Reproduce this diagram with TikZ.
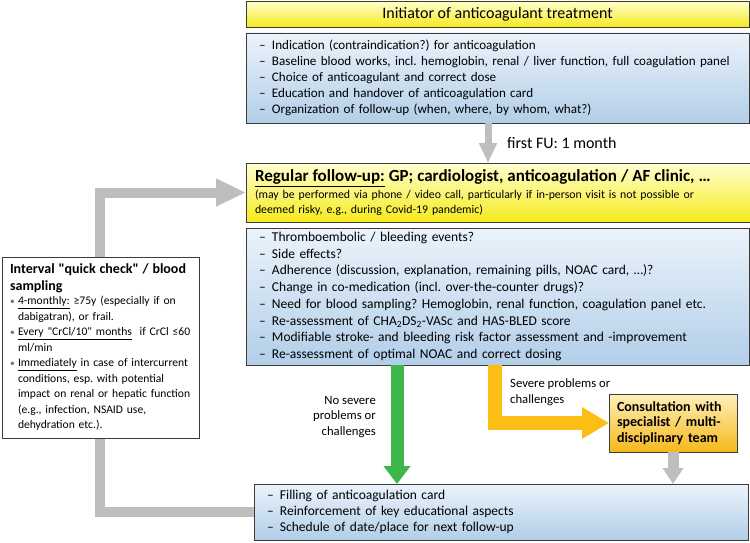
\documentclass[tikz,border=0pt]{standalone}
\usepackage{fontspec}
\setmainfont{Carlito}
\usetikzlibrary{arrows.meta,positioning}
\frenchspacing

\definecolor{ylwTop}{HTML}{FFFFD2}
\definecolor{ylwBot}{HTML}{F6EA1C}
\definecolor{bluTop}{HTML}{EBF3FB}
\definecolor{bluBot}{HTML}{B2CEE8}
\definecolor{orgTop}{HTML}{FFEFB8}
\definecolor{orgBot}{HTML}{F5B81C}
\definecolor{arrGrey}{HTML}{BEBEBE}
\definecolor{arrGreen}{HTML}{3DB64B}
\definecolor{arrOrange}{HTML}{FCBD14}
\definecolor{boxLine}{HTML}{3C3C3C}

\newcommand\fsz[2]{\fontsize{#1}{#2}\selectfont}
\newcommand\qq{\textquotedbl}
\newcommand\dashitem[1]{\makebox[13pt][l]{\textendash}#1}
\newcommand\dotitem[1]{\mbox{\makebox[8pt][l]{\fsz{9.5}{9.5}\textcolor{black!55}{\textbullet}}#1}}
\newcommand\dotcont[1]{\mbox{\hspace*{8pt}#1}}

\begin{document}
\begin{tikzpicture}[x=1pt,y=-1pt,
		box/.style={draw=boxLine,line width=0.9pt,rectangle,anchor=north west,outer sep=0pt,inner ysep=0pt,align=left},
		ylwbox/.style={box,top color=ylwTop,bottom color=ylwBot},
		blubox/.style={box,top color=bluTop,bottom color=bluBot},
		orgbox/.style={box,top color=orgTop,bottom color=orgBot},
		blockarrow/.style={line join=miter,line cap=butt}]
		\useasboundingbox (0,0) rectangle (750,543);

		% draw initiator boxes
		\node (init) at (246,1) [ylwbox,minimum width=503pt,minimum height=26pt,align=center,font=\fsz{16}{18}] {Initiator of anticoagulant treatment};
		\node (initlist) at (246,33) [blubox,minimum width=503pt,minimum height=90pt,text width=477pt,inner xsep=13pt,font=\fsz{13.1}{16}] {%
			\dashitem{Indication (contraindication?) for anticoagulation}\\
			\dashitem{Baseline blood works, incl. hemoglobin, renal / liver function, full coagulation panel}\\
			\dashitem{Choice of anticoagulant and correct dose}\\
			\dashitem{Education and handover of anticoagulation card}\\
			\dashitem{Organization of follow-up (when, where, by whom, what?)}};

		% draw follow-up boxes
		\node (fu) at (246,163) [ylwbox,minimum width=503pt,minimum height=59pt,text width=487pt,inner xsep=9pt,font=\fsz{11.8}{14.5}] {{\fsz{17}{18}\textbf{\underline{Regular follow-up:} GP; cardiologist, anticoagulation / AF clinic, \dots}}\\[3pt]
			(may be performed via phone / video call, particularly if in-person visit is not possible or\\
			deemed risky, e.g., during Covid-19 pandemic)};
		\node (check) at (246,228) [blubox,minimum width=503pt,minimum height=137pt,text width=477pt,inner xsep=13pt,font=\fsz{13.5}{16.7}] {%
			\dashitem{Thromboembolic / bleeding events?}\\
			\dashitem{Side effects?}\\
			\dashitem{Adherence (discussion, explanation, remaining pills, NOAC card, \dots)?}\\
			\dashitem{Change in co-medication (incl. over-the-counter drugs)?}\\
			\dashitem{Need for blood sampling? Hemoglobin, renal function, coagulation panel etc.}\\
			\dashitem{Re-assessment of CHA\textsubscript{2}DS\textsubscript{2}-VASc and HAS-BLED score}\\
			\dashitem{Modifiable stroke- and bleeding risk factor assessment and -improvement}\\
			\dashitem{Re-assessment of optimal NOAC and correct dosing}};

		% draw consultation and card boxes
		\node (consult) at (609,394) [orgbox,minimum width=128pt,minimum height=58pt,text width=112pt,inner xsep=8pt,font=\fsz{14}{15.5}\bfseries] {Consultation with\\specialist / multi-\\disciplinary team};
		\node (card) at (254,484) [blubox,minimum width=494pt,minimum height=56pt,text width=468pt,inner xsep=13pt,font=\fsz{13.5}{16}] {%
			\dashitem{Filling of anticoagulation card}\\
			\dashitem{Reinforcement of key educational aspects}\\
			\dashitem{Schedule of date/place for next follow-up}};

		% draw arrows
		\coordinate (fux) at (488,0);
		\coordinate (loopx) at (100,0);
		\coordinate (grnx) at (397,0);
		\coordinate (orgx) at (495,0);
		\draw[blockarrow,arrGrey,line width=7pt,-{Triangle[width=17pt,length=20pt]}] (initlist.south -| fux) -- (fu.north -| fux);
		\draw[blockarrow,arrGrey,line width=10pt,-{Triangle[width=26pt,length=30pt]}] (card.west) -| (loopx |- fu.west) -- (fu.west);
		\draw[blockarrow,arrGreen,line width=13pt,-{Triangle[width=26pt,length=18pt]}] (check.south -| grnx) -- (card.north -| grnx);
		\draw[blockarrow,arrOrange,line width=14pt,-{Triangle[width=30pt,length=27pt]}] (check.south -| orgx) |- (consult.west);
		\draw[blockarrow,arrGrey,line width=11pt,-{Triangle[width=20pt,length=16pt]}] (consult.south) -- (consult.south |- card.north);

		% draw interval box
		\node (interval) at (2,257) [box,fill=white,minimum width=197pt,minimum height=181pt,text width=181pt,inner xsep=8pt,font=\fsz{11.6}{15.5}] {%
			\mbox{\fsz{14}{19}\textbf{Interval \qq quick check\qq{} / blood}}\\[1pt]
			\mbox{\fsz{14}{19}\textbf{sampling}}\\[-1pt]
			\dotitem{\underline{4-monthly:} ≥75y (especially if on}\\
			\dotcont{dabigatran), or frail.}\\
			\dotitem{\underline{Every \qq CrCl/10\qq{} months}\ \ if CrCl ≤60}\\
			\dotcont{ml/min}\\
			\dotitem{\underline{Immediately} in case of intercurrent}\\
			\dotcont{conditions, esp. with potential}\\
			\dotcont{impact on renal or hepatic function}\\
			\dotcont{(e.g., infection, NSAID use,}\\
			\dotcont{dehydration etc.).}};

		% draw text nodes
		\node (fulabel) at (507,143) [anchor=west,inner sep=0pt,font=\fsz{16}{18}] {first FU: 1 month};
		\node (severelabel) at (510,392) [anchor=west,inner sep=0pt,align=left,font=\fsz{12.7}{15.5}] {Severe problems or\\challenges};
		\node (nosevere) at (376,417) [anchor=east,inner sep=0pt,align=right,font=\fsz{12.7}{15.5}] {No severe\\problems or\\challenges};
	\end{tikzpicture}
\end{document}
